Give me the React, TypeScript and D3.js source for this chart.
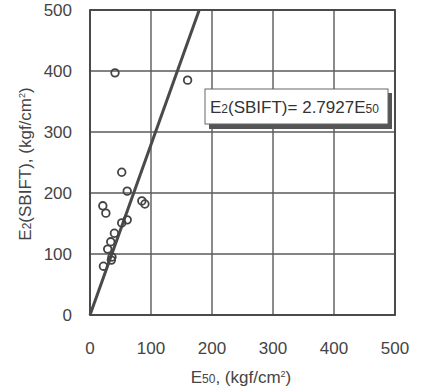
import React, { useEffect, useRef } from 'react';
import * as d3 from 'd3';

// measured points (E50, E2(SBIFT))
const e50Values = [41, 160, 52, 61, 21, 26, 85, 90, 61, 52, 40, 34, 29, 35, 22, 36];
const e2Values = [397, 385, 234, 203, 179, 167, 187, 182, 156, 151, 134, 120, 108, 90, 80, 95];
const xTicks = [0, 100, 200, 300, 400, 500];
const yTicks = [0, 100, 200, 300, 400, 500];
const slope = 2.7927;

const App = () => {
    const ref = useRef<SVGSVGElement>(null);

    useEffect(() => {
        const svg = d3.select(ref.current);
        svg.selectAll('*').remove();

        const left = 90, right = 395, top = 10, bottom = 315;
        const x = d3.scaleLinear().domain([0, 500]).range([left, right]);
        const y = d3.scaleLinear().domain([0, 500]).range([bottom, top]);
        const font = 'Liberation Sans, Arial, sans-serif';

        // grid
        svg.append('g').selectAll('line.v').data(xTicks).join('line')
            .attr('x1', d => x(d)).attr('x2', d => x(d))
            .attr('y1', top).attr('y2', bottom)
            .attr('stroke', '#5a5a5a').attr('stroke-width', 1.4);
        svg.append('g').selectAll('line.h').data(yTicks).join('line')
            .attr('x1', left).attr('x2', right)
            .attr('y1', d => y(d)).attr('y2', d => y(d))
            .attr('stroke', '#5a5a5a').attr('stroke-width', 1.4);
        svg.append('rect')
            .attr('x', left).attr('y', top)
            .attr('width', right - left).attr('height', bottom - top)
            .attr('fill', 'none').attr('stroke', '#444').attr('stroke-width', 1.8);

        // tick labels
        svg.append('g').selectAll('text').data(yTicks).join('text')
            .attr('x', 72).attr('y', d => y(d) + 6)
            .attr('text-anchor', 'end')
            .style('font-family', font).style('font-size', '17px').attr('fill', '#444')
            .text(d => d);
        svg.append('g').selectAll('text').data(xTicks).join('text')
            .attr('x', d => x(d)).attr('y', 354)
            .attr('text-anchor', 'middle')
            .style('font-family', font).style('font-size', '17px').attr('fill', '#444')
            .text(d => d);

        // regression line E2 = slope * E50, clipped at 500
        const xEnd = 500 / slope;
        svg.append('line')
            .attr('x1', x(0)).attr('y1', y(0))
            .attr('x2', x(xEnd)).attr('y2', y(slope * xEnd))
            .attr('stroke', '#4a4a4a').attr('stroke-width', 3);

        // points
        svg.append('g').selectAll('circle').data(e50Values.map((v, i) => [v, e2Values[i]])).join('circle')
            .attr('cx', d => x(d[0])).attr('cy', d => y(d[1]))
            .attr('r', 3.8)
            .attr('fill', 'none').attr('stroke', '#444').attr('stroke-width', 1.8);

        // equation box with shadow
        svg.append('rect').attr('x', 209).attr('y', 93).attr('width', 183).attr('height', 36).attr('fill', '#555');
        svg.append('rect').attr('x', 205).attr('y', 89).attr('width', 183).attr('height', 35)
            .attr('fill', '#fff').attr('stroke', '#666').attr('stroke-width', 1);
        const eq = svg.append('text').attr('x', 210).attr('y', 113)
            .style('font-family', font).style('font-size', '17px').attr('fill', '#333');
        eq.append('tspan').text('E');
        eq.append('tspan').style('font-size', '12px').text('2');
        eq.append('tspan').text('(SBIFT)= 2.7927E');
        eq.append('tspan').style('font-size', '12px').text('50');

        // x axis title
        const xt = svg.append('text').attr('x', 241).attr('y', 383).attr('text-anchor', 'middle')
            .style('font-family', font).style('font-size', '17px').attr('fill', '#444');
        xt.append('tspan').text('E');
        xt.append('tspan').style('font-size', '12px').text('50');
        xt.append('tspan').text(', (kgf/cm');
        xt.append('tspan').attr('dy', -6).style('font-size', '9px').text('2');
        xt.append('tspan').attr('dy', 6).text(')');

        // y axis title
        const yt = svg.append('text')
            .attr('transform', 'translate(31,164) rotate(-90)')
            .attr('text-anchor', 'middle')
            .style('font-family', font).style('font-size', '17px').attr('fill', '#444');
        yt.append('tspan').text('E');
        yt.append('tspan').style('font-size', '12px').text('2');
        yt.append('tspan').text('(SBIFT), (kgf/cm');
        yt.append('tspan').attr('dy', -6).style('font-size', '9px').text('2');
        yt.append('tspan').attr('dy', 6).text(')');
    }, []);

    return (
        <svg ref={ref} width={425} height={390}
            style={{ position: 'absolute', left: 0, top: 0, background: '#fff' }} />
    );
};

export default App;
